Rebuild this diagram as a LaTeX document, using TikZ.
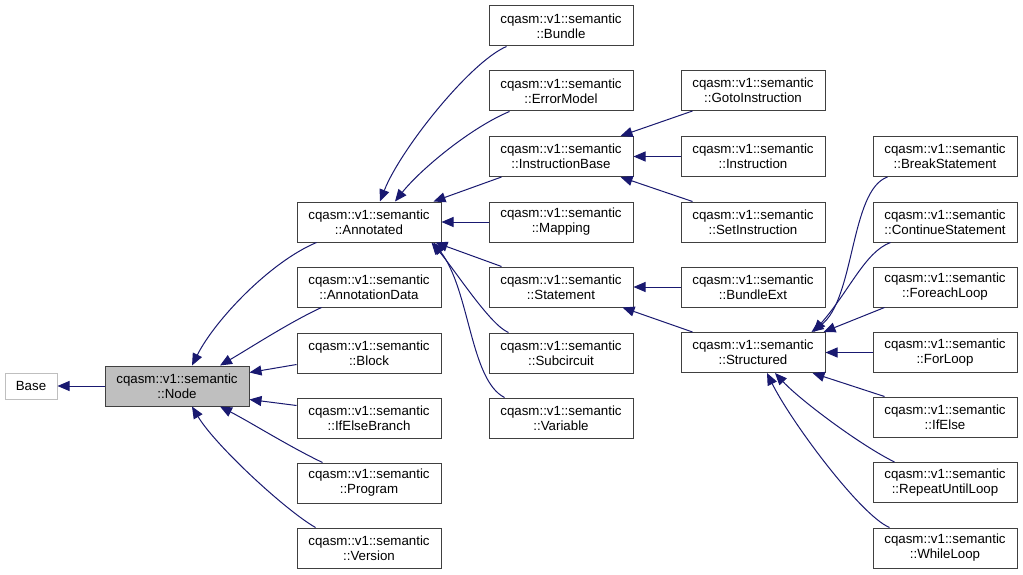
\documentclass[tikz,border=0pt]{standalone}
\usepackage{fontspec}
\setmainfont{Liberation Sans}
\usetikzlibrary{arrows.meta,calc}
\definecolor{edgecol}{HTML}{191970}
\definecolor{boxborder}{HTML}{404040}
\definecolor{nodefill}{HTML}{BFBFBF}
\begin{document}
\begin{tikzpicture}[x=1pt,y=-1pt,
  box/.style={draw=boxborder,line width=1pt,fill=white,minimum width=144pt,minimum height=40pt,
    inner sep=0pt,align=center,font=\fontsize{13.3}{15}\selectfont},
  edge/.style={draw=edgecol,line width=1pt,-{Triangle[length=12pt,width=10pt]}}]
\useasboundingbox[fill=white] (0,0) rectangle (1023,575);

\node[box,draw=nodefill,minimum width=52pt,minimum height=26pt] (base) at (31,386) {Base};
\node[box,fill=nodefill] (node) at (177,386) {cqasm::v1::semantic\\::Node};

\node[box] (annotated) at (369,222) {cqasm::v1::semantic\\::Annotated};
\node[box] (annotationdata) at (369,287) {cqasm::v1::semantic\\::AnnotationData};
\node[box] (block) at (369,353) {cqasm::v1::semantic\\::Block};
\node[box] (ifelsebranch) at (369,418) {cqasm::v1::semantic\\::IfElseBranch};
\node[box] (program) at (369,483) {cqasm::v1::semantic\\::Program};
\node[box] (version) at (369,548) {cqasm::v1::semantic\\::Version};

\node[box] (bundle) at (561,26) {cqasm::v1::semantic\\::Bundle};
\node[box] (errormodel) at (561,91) {cqasm::v1::semantic\\::ErrorModel};
\node[box] (instructionbase) at (561,156.5) {cqasm::v1::semantic\\::InstructionBase};
\node[box] (mapping) at (561,222) {cqasm::v1::semantic\\::Mapping};
\node[box] (statement) at (561,287) {cqasm::v1::semantic\\::Statement};
\node[box] (subcircuit) at (561,353) {cqasm::v1::semantic\\::Subcircuit};
\node[box] (variable) at (561,418) {cqasm::v1::semantic\\::Variable};

\node[box] (gotoinstruction) at (753,90.5) {cqasm::v1::semantic\\::GotoInstruction};
\node[box] (instruction) at (753,156.5) {cqasm::v1::semantic\\::Instruction};
\node[box] (setinstruction) at (753,222) {cqasm::v1::semantic\\::SetInstruction};
\node[box] (bundleext) at (753,287) {cqasm::v1::semantic\\::BundleExt};
\node[box] (structured) at (753,352.5) {cqasm::v1::semantic\\::Structured};

\node[box] (breakstatement) at (945,156.5) {cqasm::v1::semantic\\::BreakStatement};
\node[box] (continuestatement) at (945,222) {cqasm::v1::semantic\\::ContinueStatement};
\node[box] (foreachloop) at (945,287) {cqasm::v1::semantic\\::ForeachLoop};
\node[box] (forloop) at (945,352.5) {cqasm::v1::semantic\\::ForLoop};
\node[box] (ifelse) at (945,417) {cqasm::v1::semantic\\::IfElse};
\node[box] (repeatuntilloop) at (945,482.5) {cqasm::v1::semantic\\::RepeatUntilLoop};
\node[box] (whileloop) at (945,548) {cqasm::v1::semantic\\::WhileLoop};

% Node -> Base
\draw[edge] (node.west) -- (base.east);

% column 2 -> Node
\draw[edge] ($(annotated.south west)+(20,0)$) .. controls (270,262) and (215,320) .. ($(node.north)+(15,0)$);
\draw[edge] ($(annotationdata.south west)+(25,0)$) .. controls (290,322) and (250,348) .. ($(node.north)+(43,0)$);
\draw[edge] ($(block.south west)+(0,-9)$) -- ($(node.north east)+(0,7)$);
\draw[edge] ($(ifelsebranch.north west)+(0,8)$) -- ($(node.south east)+(0,-7)$);
\draw[edge] ($(program.north west)+(26,0)$) .. controls (290,447) and (250,422) .. ($(node.south)+(43,0)$);
\draw[edge] ($(version.north west)+(19,0)$) .. controls (285,510) and (215,445) .. ($(node.south)+(15,0)$);

% column 3 -> Annotated
\draw[edge] ($(bundle.south west)+(18,0)$) .. controls (470,62) and (400,150) .. ($(annotated.north)+(11,0)$);
\draw[edge] ($(errormodel.south west)+(21,0)$) .. controls (470,128) and (420,170) .. ($(annotated.north)+(26,0)$);
\draw[edge] ($(instructionbase.south west)+(13,0)$) -- ($(annotated.north east)+(-8,0)$);
\draw[edge] (mapping.west) -- (annotated.east);
\draw[edge] ($(statement.north west)+(13,0)$) -- ($(annotated.south east)+(-6,0)$);
\draw[edge] ($(subcircuit.north west)+(20,0)$) .. controls (490,325) and (455,270) .. ($(annotated.south east)+(-10,0)$);
\draw[edge] ($(variable.north west)+(16,0)$) .. controls (470,380) and (470,290) .. ($(annotated.south east)+(-8,0)$);

% column 4 -> column 3
\draw[edge] ($(gotoinstruction.south west)+(12,0)$) -- ($(instructionbase.north east)+(-13,0)$);
\draw[edge] (instruction.west) -- (instructionbase.east);
\draw[edge] ($(setinstruction.north west)+(12,0)$) -- ($(instructionbase.south east)+(-13,0)$);
\draw[edge] (bundleext.west) -- (statement.east);
\draw[edge] ($(structured.north west)+(12,0)$) -- ($(statement.south east)+(-11,0)$);

% column 5 -> Structured
\draw[edge] ($(breakstatement.south west)+(15,0)$) .. controls (850,190) and (855,300) .. ($(structured.north east)+(-14,0)$);
\draw[edge] ($(continuestatement.south west)+(18,0)$) .. controls (865,252) and (850,290) .. ($(structured.north east)+(-12,0)$);
\draw[edge] ($(foreachloop.south west)+(12,0)$) -- ($(structured.north east)+(-2,0)$);
\draw[edge] (forloop.west) -- (structured.east);
\draw[edge] ($(ifelse.north west)+(12,0)$) -- ($(structured.south east)+(-13,0)$);
\draw[edge] ($(repeatuntilloop.north west)+(22,0)$) .. controls (860,445) and (800,400) .. ($(structured.south)+(22,0)$);
\draw[edge] ($(whileloop.north west)+(17,0)$) .. controls (860,515) and (790,420) .. ($(structured.south)+(14,0)$);
\end{tikzpicture}
\end{document}
